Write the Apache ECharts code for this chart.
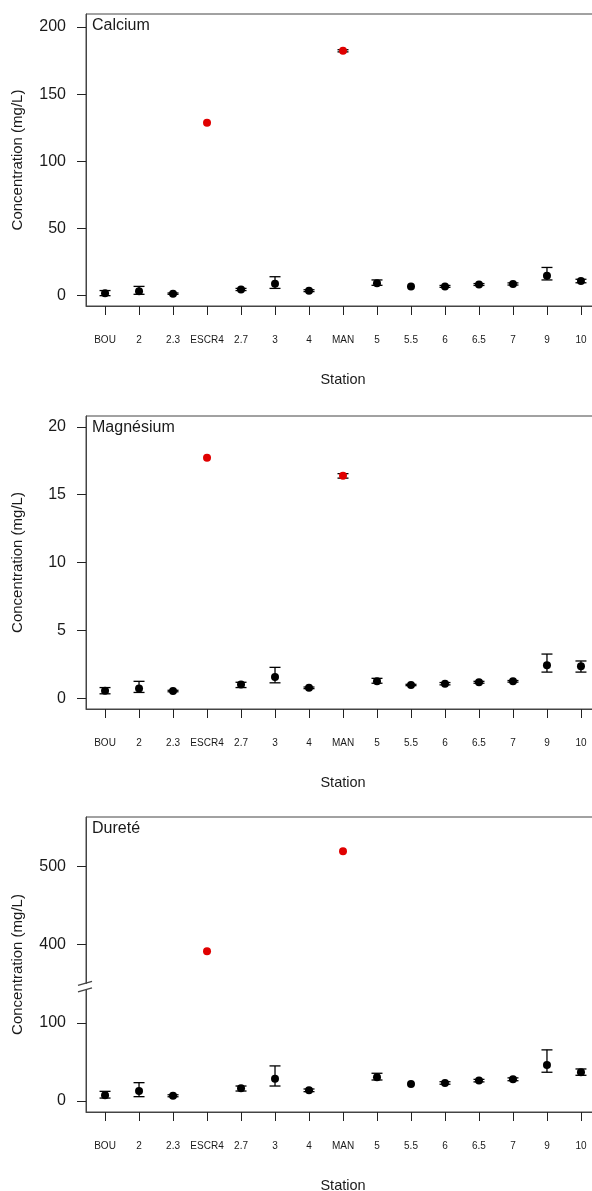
<!DOCTYPE html>
<html>
<head>
<meta charset="utf-8">
<script src="https://cdn.jsdelivr.net/npm/echarts@6/dist/echarts.min.js"></script>
<style>
  html, body { margin: 0; padding: 0; background: #fff; }
  #chart { width: 592px; height: 1191px; }
</style>
</head>
<body>
<div id="chart"></div>
<script>
// stations, in the order of the x axis
var stations = ['BOU', '2', '2.3', 'ESCR4', '2.7', '3', '4', 'MAN', '5', '5.5', '6', '6.5', '7', '9', '10'];
var redStations = ['ESCR4', 'MAN'];

// Calcium (mg/L): mean, low and high end of the error bar
var calciumMean = [1.8, 3.3, 1.5, 128.8, 4.6, 8.8, 3.7, 182.3, 9.3, 6.9, 6.9, 8.3, 8.7, 14.9, 10.9];
var calciumLow = [0.0, 1.0, 1.0, null, 3.8, 5.4, 3.0, 181.5, 7.7, null, 6.2, 7.6, 7.9, 11.7, 9.6];
var calciumHigh = [3.8, 6.9, 2.0, null, 5.4, 14.1, 4.4, 183.1, 11.7, null, 7.6, 9.0, 9.5, 21.0, 12.2];

// Magnesium (mg/L)
var magnesiumMean = [0.55, 0.72, 0.52, 17.72, 1.0, 1.56, 0.76, 16.39, 1.24, 0.97, 1.07, 1.17, 1.24, 2.43, 2.35];
var magnesiumLow = [0.32, 0.42, 0.47, null, 0.78, 1.13, 0.70, 16.22, 1.10, 0.92, 0.98, 1.10, 1.18, 1.92, 1.92];
var magnesiumHigh = [0.78, 1.24, 0.58, null, 1.17, 2.27, 0.82, 16.55, 1.46, 1.02, 1.15, 1.24, 1.30, 3.25, 2.74];

// Durete (mg/L)
var dureteMean = [7.5, 12.8, 6.8, 391.5, 16.2, 28.6, 13.7, 519.2, 30.3, 21.8, 23.1, 26.1, 27.8, 46.2, 36.8];
var dureteLow = [3.8, 5.6, 5.5, null, 12.8, 19.2, 12.0, null, 26.9, null, 21.5, 24.5, 26.0, 36.8, 32.9];
var dureteHigh = [12.4, 23.5, 8.0, null, 19.2, 44.9, 15.4, null, 35.5, null, 24.7, 27.7, 29.6, 65.4, 41.0];

// tick labels
var calciumTicks = [0, 50, 100, 150, 200];
var magnesiumTicks = [0, 5, 10, 15, 20];
var dureteTicks = [0, 100, 400, 500];

// durete axis is cut between 150 and 350 (drawn like gap.plot)
var gapFrom = 150, gapSize = 200;
function gapY(v) { return v > gapFrom ? v - gapSize : v; }
function ungapY(v) { return v > gapFrom ? v + gapSize : v; }
function ident(v) { return v; }

var FONT = 'Liberation Sans, Arial, sans-serif';
var TEXT = '#1a1a1a';
var LINE = '#444';

var panels = [
  { name: 'Calcium', mean: calciumMean, low: calciumLow, high: calciumHigh, ticks: calciumTicks,
    min: -7.7, max: 209.7, tf: ident, inv: ident, top: 14, height: 292 },
  { name: 'Magnésium', mean: magnesiumMean, low: magnesiumLow, high: magnesiumHigh, ticks: magnesiumTicks,
    min: -0.8, max: 20.8, tf: ident, inv: ident, top: 416, height: 293 },
  { name: 'Dureté', mean: dureteMean, low: dureteLow, high: dureteHigh, ticks: dureteTicks,
    min: -14, max: 363, tf: gapY, inv: ungapY, top: 817, height: 295 }
];

var idx = stations.map(function (s, i) { return i; });

function errorBar(params, api) {
  var x = api.value(0);
  var lo = api.coord([x, api.value(1)]);
  var hi = api.coord([x, api.value(2)]);
  var w = 5.5;
  var st = { stroke: '#000', lineWidth: 1.3 };
  return {
    type: 'group',
    children: [
      { type: 'line', shape: { x1: lo[0], y1: lo[1], x2: hi[0], y2: hi[1] }, style: st },
      { type: 'line', shape: { x1: lo[0] - w, y1: lo[1], x2: lo[0] + w, y2: lo[1] }, style: st },
      { type: 'line', shape: { x1: hi[0] - w, y1: hi[1], x2: hi[0] + w, y2: hi[1] }, style: st }
    ]
  };
}

var grid = [], xAxis = [], yAxis = [], series = [], title = [];

panels.forEach(function (p, k) {
  // the plot box runs past the right edge of the picture, as in the original
  grid.push({
    left: 86, top: p.top, width: 514, height: p.height, outerBoundsMode: 'none',
    show: true, borderColor: LINE, borderWidth: 1, backgroundColor: 'transparent'
  });
  title.push({
    text: p.name, left: 92, top: p.top + 4, padding: 0,
    textStyle: { fontFamily: FONT, fontSize: 16, fontWeight: 'normal', color: TEXT }
  });
  xAxis.push({
    gridIndex: k, type: 'value', min: -0.56, max: 14.56,
    axisLine: { show: true, onZero: false, lineStyle: { color: LINE } },
    axisTick: { show: true, customValues: idx, length: 9, lineStyle: { color: '#222' } },
    axisLabel: {
      customValues: idx, margin: 29, fontFamily: FONT, fontSize: 10, color: TEXT,
      formatter: function (v) { return stations[v]; }
    },
    splitLine: { show: false },
    name: 'Station', nameLocation: 'middle', nameGap: 66,
    nameTextStyle: { fontFamily: FONT, fontSize: 14.5, color: TEXT }
  });
  var tv = p.ticks.map(p.tf);
  yAxis.push({
    gridIndex: k, type: 'value', min: p.min, max: p.max,
    axisLine: { show: true, onZero: false, lineStyle: { color: LINE } },
    axisTick: { show: true, customValues: tv, length: 9, lineStyle: { color: '#222' } },
    axisLabel: {
      customValues: tv, margin: 20, fontFamily: FONT, fontSize: 16, color: TEXT,
      formatter: function (v) { return String(Math.round(p.inv(v))); }
    },
    splitLine: { show: false },
    name: 'Concentration (mg/L)', nameLocation: 'middle', nameGap: 61,
    nameTextStyle: { fontFamily: FONT, fontSize: 15, color: TEXT }
  });

  var bars = [];
  p.mean.forEach(function (m, i) {
    if (p.low[i] != null && p.high[i] != null) {
      bars.push([i, p.tf(p.low[i]), p.tf(p.high[i])]);
    }
  });
  series.push({
    type: 'custom', xAxisIndex: k, yAxisIndex: k,
    renderItem: errorBar, data: bars, z: 2, silent: true
  });
  series.push({
    type: 'scatter', xAxisIndex: k, yAxisIndex: k, z: 3,
    symbol: 'circle', symbolSize: 8,
    data: p.mean.map(function (m, i) { return [i, p.tf(m)]; }),
    itemStyle: {
      opacity: 1,
      color: function (params) {
        return redStations.indexOf(stations[params.data[0]]) >= 0 ? '#e00000' : '#000';
      }
    }
  });
});

var chart = echarts.init(document.getElementById('chart'), null, { renderer: 'canvas' });
chart.setOption({
  animation: false,
  backgroundColor: '#fff',
  title: title,
  grid: grid,
  xAxis: xAxis,
  yAxis: yAxis,
  series: series
});

// break mark "//" on the durete axis
var c = chart.convertToPixel({ gridIndex: 2 }, [-0.56, 146]);
chart.setOption({
  graphic: [
    { type: 'rect', shape: { x: c[0] - 2, y: c[1] - 3, width: 4, height: 6 }, style: { fill: '#fff' }, z: 100 },
    { type: 'line', shape: { x1: c[0] - 8, y1: c[1] - 1.5, x2: c[0] + 6, y2: c[1] - 5.5 }, style: { stroke: LINE, lineWidth: 1.2 }, z: 101 },
    { type: 'line', shape: { x1: c[0] - 8, y1: c[1] + 5, x2: c[0] + 6, y2: c[1] + 1 }, style: { stroke: LINE, lineWidth: 1.2 }, z: 101 }
  ]
});
</script>
</body>
</html>
